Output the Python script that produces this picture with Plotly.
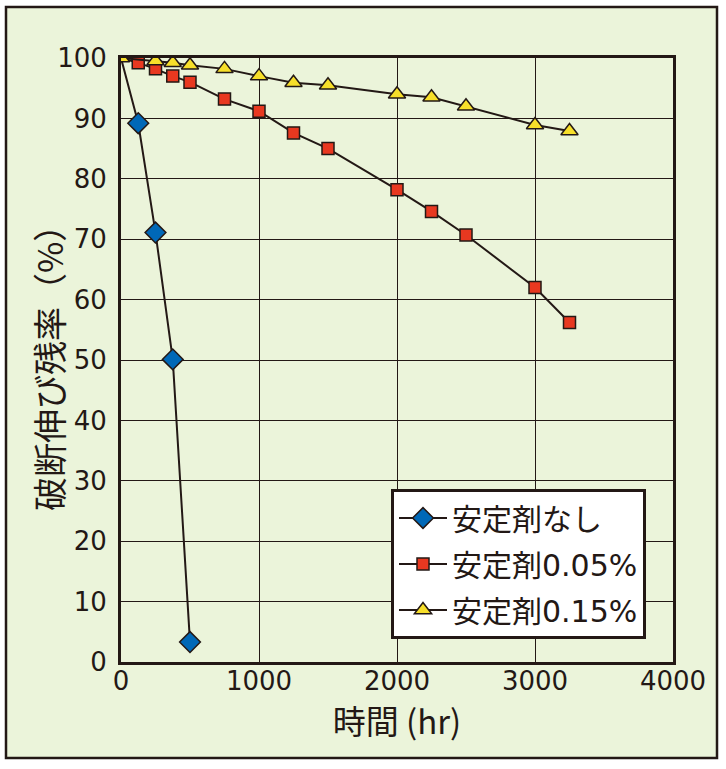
import plotly.graph_objects as go

# Data
names = ["安定剤なし", "安定剤0.05%", "安定剤0.15%"]
x_none = [0, 125, 250, 375, 500]
y_none = [100, 89.2, 71.1, 50.1, 3.3]
x_005 = [0, 125, 250, 375, 500, 750, 1000, 1250, 1500, 2000, 2250, 2500, 3000, 3250]
y_005 = [100, 99.2, 98.2, 97.0, 96.0, 93.2, 91.2, 87.6, 85.0, 78.2, 74.6, 70.7, 62.0, 56.2]
x_015 = [0, 250, 375, 500, 750, 1000, 1250, 1500, 2000, 2250, 2500, 3000, 3250]
y_015 = [100, 99.5, 99.2, 98.8, 98.2, 97.0, 95.9, 95.5, 94.0, 93.5, 92.0, 88.9, 87.9]
x_ticks = [0, 1000, 2000, 3000, 4000]
y_ticks = [0, 10, 20, 30, 40, 50, 60, 70, 80, 90, 100]
x_title = "時間 (hr)"
y_title = "破断伸び残率（%）"

INK = "#231815"
BG = "#EBF4DA"
FONT = "DejaVu Sans, Noto Sans CJK JP"
CJK = "Noto Sans CJK JP"

# (x, y, name, symbol, colour, size, hide marker at origin)
series = [
    (x_none, y_none, names[0], "diamond", "#0068B7", 16, True),
    (x_005, y_005, names[1], "square", "#E83820", 12, True),
    (x_015, y_015, names[2], "triangle-up", "#F7DF2A", 15, False),
]

fig = go.Figure()
for i, (xs, ys, nm, sym, col, sz, hide0) in enumerate(series):
    sizes = [0 if (hide0 and k == 0) else sz for k in range(len(xs))]
    fig.add_trace(go.Scatter(
        x=xs, y=ys, name=nm, mode="lines+markers", legendgroup=f"g{i}", showlegend=False,
        line=dict(color=INK, width=2),
        marker=dict(symbol=sym, color=col, size=sizes, opacity=1,
                    line=dict(color=INK, width=1.5)),
    ))
    # legend entry with constant marker size
    fig.add_trace(go.Scatter(
        x=[None], y=[None], name=nm, mode="lines+markers", legendgroup=f"g{i}",
        line=dict(color=INK, width=2),
        marker=dict(symbol=sym, color=col, size=sz, opacity=1,
                    line=dict(color=INK, width=1.5)),
    ))

# outer panel (pixel edges ~6,7 .. 717,758)
L, R, T, B = 121, 673, 58, 662
def px(v): return (v - L) / (R - L)
def py(v): return (B - v) / (B - T)
fig.add_shape(type="rect", xref="paper", yref="paper",
              x0=px(6), x1=px(717), y0=py(758), y1=py(7),
              fillcolor=BG, line=dict(color=INK, width=2.5), layer="below")

fig.add_annotation(text=y_title, xref="paper", yref="paper", x=px(48), y=py(360),
                   xanchor="center", yanchor="middle",
                   textangle=-90, showarrow=False, font=dict(family=CJK, size=34, color=INK))

fig.update_layout(
    width=726, height=769,
    margin=dict(l=L, r=726 - R, t=T, b=769 - B),
    paper_bgcolor="white", plot_bgcolor=BG,
    font=dict(family=FONT, color=INK, size=26),
    showlegend=True,
    legend=dict(
        x=px(391), y=py(489), xanchor="left", yanchor="top",
        bgcolor="white", bordercolor=INK, borderwidth=3,
        font=dict(size=30, family=FONT, color=INK),
        tracegroupgap=4, itemwidth=48,
    ),
    xaxis=dict(
        range=[0, 4000], tickvals=x_ticks, showgrid=True, gridcolor=INK, gridwidth=1.2,
        showline=True, linecolor=INK, linewidth=3, mirror=True, zeroline=False,
        ticks="", ticklabelstandoff=-6, tickfont=dict(size=26), automargin=False,
        title=dict(text=x_title, font=dict(family=CJK, size=33), standoff=15),
    ),
    yaxis=dict(
        range=[0, 100], tickvals=y_ticks, showgrid=True, gridcolor=INK, gridwidth=1.2,
        showline=True, linecolor=INK, linewidth=3, mirror=True, zeroline=False,
        ticks="", ticklabelstandoff=6, tickfont=dict(size=26), automargin=False,
    ),
)

fig.write_html("out.html", config={"displayModeBar": False},
               post_script="document.body.style.margin='0';document.body.style.overflow='hidden';")
